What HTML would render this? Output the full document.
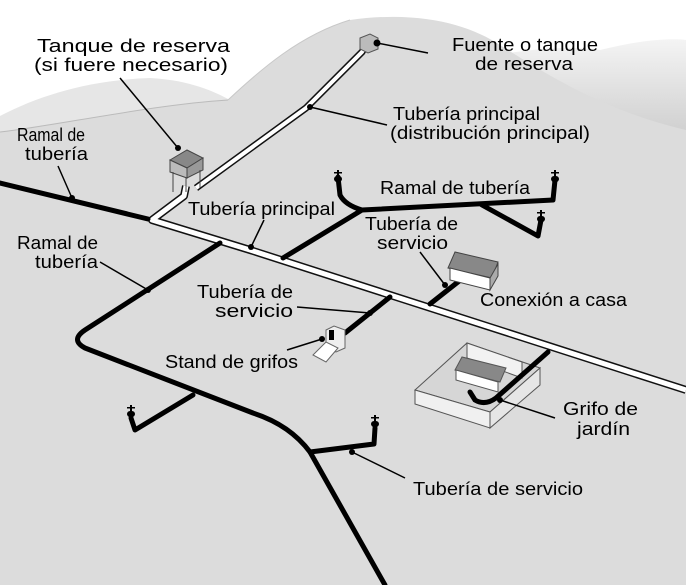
<!DOCTYPE html>
<html><head><meta charset="utf-8"><style>
html,body{margin:0;padding:0;background:#fff;}
svg{display:block;}
text{font-family:"Liberation Sans",sans-serif;font-size:18px;fill:#000;}
</style></head><body>
<svg width="686" height="585" viewBox="0 0 686 585" xmlns="http://www.w3.org/2000/svg">
<defs>
<linearGradient id="hr" x1="0" y1="0" x2="0" y2="1"><stop offset="0" stop-color="#f4f4f4"/><stop offset="1" stop-color="#cfcfcf"/></linearGradient>
</defs>
<rect width="686" height="585" fill="#fff"/>
<path d="M470 60 C520 50 560 45 600 50 C640 40 670 38 686 40 L686 135 C640 130 560 110 480 95 Z" fill="url(#hr)"/>
<path d="M0 116 C40 95 90 80 150 78 C190 80 215 92 230 100 L230 140 L0 140 Z" fill="#e6e6e6"/>
<path d="M0 132 C60 125 150 105 228 100 C260 70 300 35 350 20 C420 10 470 25 500 45 C540 70 600 110 686 130 L686 585 L0 585 Z" fill="#dcdcdc"/>
<path d="M0 132 C60 125 150 105 228 100" fill="none" stroke="#bbb" stroke-width="1"/>
<path d="M228 100 C260 70 300 35 350 20" fill="none" stroke="#c8c8c8" stroke-width="1"/>

<g fill="none" stroke-linejoin="round">
<polyline points="367,44 362,52 306,108 196,188" stroke="#111" stroke-width="7"/>
<polyline points="367,44 362,52 306,108 196,188" stroke="#fff" stroke-width="4"/>
<polyline points="186,186 184,196 152,220 250,250 686,390" stroke="#111" stroke-width="8"/>
<polyline points="186,186 184,196 152,220 250,250 686,390" stroke="#fff" stroke-width="5"/>
</g>

<g fill="none" stroke="#000" stroke-width="5" stroke-linecap="round" stroke-linejoin="round">
<line x1="0" y1="183" x2="148" y2="219"/>
<path d="M220 243 L85 330 Q70 340 85 348 L253 413 Q290 425 310 452 L385 585"/>
<polyline points="193,395 135,430 131,418"/>
<polyline points="310,452 374,444 375,428"/>
<path d="M283 258 L362 210 M362 210 Q345 205 340 195 L338 177 M362 210 L553 200 L555 180 M482 205 L538 236 L541 220"/>
<line x1="390" y1="297" x2="345" y2="333"/>
<line x1="430" y1="304" x2="463" y2="278"/>
</g>
<g fill="#000">
<g transform="translate(338,170)"><rect x="-1" y="0" width="2" height="8"/><rect x="-4" y="2" width="8" height="1.5"/><rect x="-4" y="6" width="8" height="6" rx="3"/></g>
<g transform="translate(555,170)"><rect x="-1" y="0" width="2" height="8"/><rect x="-4" y="2" width="8" height="1.5"/><rect x="-4" y="6" width="8" height="6" rx="3"/></g>
<g transform="translate(541,210)"><rect x="-1" y="0" width="2" height="8"/><rect x="-4" y="2" width="8" height="1.5"/><rect x="-4" y="6" width="8" height="6" rx="3"/></g>
<g transform="translate(131,405)"><rect x="-1" y="0" width="2" height="8"/><rect x="-4" y="2" width="8" height="1.5"/><rect x="-4" y="6" width="8" height="6" rx="3"/></g>
<g transform="translate(375,415)"><rect x="-1" y="0" width="2" height="8"/><rect x="-4" y="2" width="8" height="1.5"/><rect x="-4" y="6" width="8" height="6" rx="3"/></g>
</g>

<polygon points="360,38 370,34 378,38 378,49 368,53 360,49" fill="#bbb" stroke="#555" stroke-width="1"/>
<g stroke="#444" stroke-width="1">
<polygon points="170,160 187,150 203,158 187,168" fill="#888"/>
<polygon points="170,160 187,168 187,178 170,172" fill="#bbb"/>
<polygon points="187,168 203,158 203,170 187,178" fill="#999"/>
<line x1="173" y1="172" x2="173" y2="192"/><line x1="186" y1="178" x2="186" y2="192"/><line x1="200" y1="170" x2="200" y2="188"/>
</g>
<g stroke="#444" stroke-width="1">
<polygon points="448,268 455,252 498,262 492,278" fill="#888"/>
<polygon points="450,268 490,278 490,290 450,280" fill="#fff"/>
<polygon points="490,278 498,264 498,276 490,290" fill="#aaa"/>
</g>
<g stroke="#666" stroke-width="1">
<polygon points="326,330 334,326 345,330 345,348 336,352 326,348" fill="#eee"/>
<polygon points="313,355 326,342 338,348 326,362" fill="#fff"/>
</g>
<rect x="329" y="330" width="5" height="10" fill="#000"/>
<g stroke="#555" stroke-width="1">
<polygon points="415,390 467,343 540,368 490,412" fill="#d6d6d6"/>
<polygon points="467,343 522,362 522,378 467,358" fill="#f2f2f2"/>
<polygon points="415,390 490,412 490,428 415,404" fill="#f0f0f0"/>
<polygon points="490,412 540,368 540,385 490,428" fill="#e6e6e6"/>
<polygon points="455,370 462,357 506,368 500,382" fill="#888"/>
<polygon points="456,370 498,382 498,392 456,380" fill="#fff"/>
</g>
<path d="M548 352 L496 398 Q485 406 475 400 L470 392" fill="none" stroke="#000" stroke-width="5" stroke-linecap="round"/>

<g stroke="#000" stroke-width="1.5" fill="none">
<line x1="120" y1="78" x2="178" y2="148"/>
<line x1="377" y1="43" x2="428" y2="53"/>
<line x1="310" y1="107" x2="387" y2="125"/>
<line x1="58" y1="166" x2="72" y2="198"/>
<line x1="264" y1="220" x2="251" y2="247"/>
<line x1="420" y1="252" x2="445" y2="285"/>
<line x1="100" y1="262" x2="148" y2="290"/>
<line x1="297" y1="307" x2="370" y2="313"/>
<line x1="287" y1="350" x2="322" y2="339"/>
<line x1="500" y1="400" x2="555" y2="418"/>
<line x1="352" y1="452" x2="405" y2="478"/>
</g>
<g fill="#000">
<circle cx="178" cy="148" r="3"/><circle cx="377" cy="43" r="3.5"/><circle cx="310" cy="107" r="3"/>
<circle cx="72" cy="198" r="3"/><circle cx="251" cy="247" r="3"/><circle cx="445" cy="285" r="3"/>
<circle cx="148" cy="290" r="3"/><circle cx="370" cy="313" r="3"/><circle cx="322" cy="339" r="3"/>
<circle cx="500" cy="400" r="3"/><circle cx="352" cy="452" r="3"/>
</g>

<g>
<text x="37" y="52" textLength="193" lengthAdjust="spacingAndGlyphs">Tanque de reserva</text>
<text x="34" y="71" textLength="194" lengthAdjust="spacingAndGlyphs">(si fuere necesario)</text>
<text x="452" y="51" textLength="146" lengthAdjust="spacingAndGlyphs">Fuente o tanque</text>
<text x="475" y="70" textLength="98" lengthAdjust="spacingAndGlyphs">de reserva</text>
<text x="393" y="120" textLength="147" lengthAdjust="spacingAndGlyphs">Tubería principal</text>
<text x="390" y="139" textLength="200" lengthAdjust="spacingAndGlyphs">(distribución principal)</text>
<text x="17" y="141" textLength="68" lengthAdjust="spacingAndGlyphs">Ramal de</text>
<text x="25" y="160" textLength="63" lengthAdjust="spacingAndGlyphs">tubería</text>
<text x="188" y="215" textLength="147" lengthAdjust="spacingAndGlyphs">Tubería principal</text>
<text x="380" y="194" textLength="150" lengthAdjust="spacingAndGlyphs">Ramal de tubería</text>
<text x="365" y="230" textLength="93" lengthAdjust="spacingAndGlyphs">Tubería de</text>
<text x="377" y="249" textLength="71" lengthAdjust="spacingAndGlyphs">servicio</text>
<text x="17" y="249" textLength="81" lengthAdjust="spacingAndGlyphs">Ramal de</text>
<text x="35" y="268" textLength="63" lengthAdjust="spacingAndGlyphs">tubería</text>
<text x="197" y="298" textLength="96" lengthAdjust="spacingAndGlyphs">Tubería de</text>
<text x="215" y="317" textLength="78" lengthAdjust="spacingAndGlyphs">servicio</text>
<text x="480" y="306" textLength="147" lengthAdjust="spacingAndGlyphs">Conexión a casa</text>
<text x="165" y="368" textLength="133" lengthAdjust="spacingAndGlyphs">Stand de grifos</text>
<text x="563" y="415" textLength="75" lengthAdjust="spacingAndGlyphs">Grifo de</text>
<text x="577" y="435" textLength="53" lengthAdjust="spacingAndGlyphs">jardín</text>
<text x="413" y="495" textLength="170" lengthAdjust="spacingAndGlyphs">Tubería de servicio</text>
</g>
</svg>
</body></html>
